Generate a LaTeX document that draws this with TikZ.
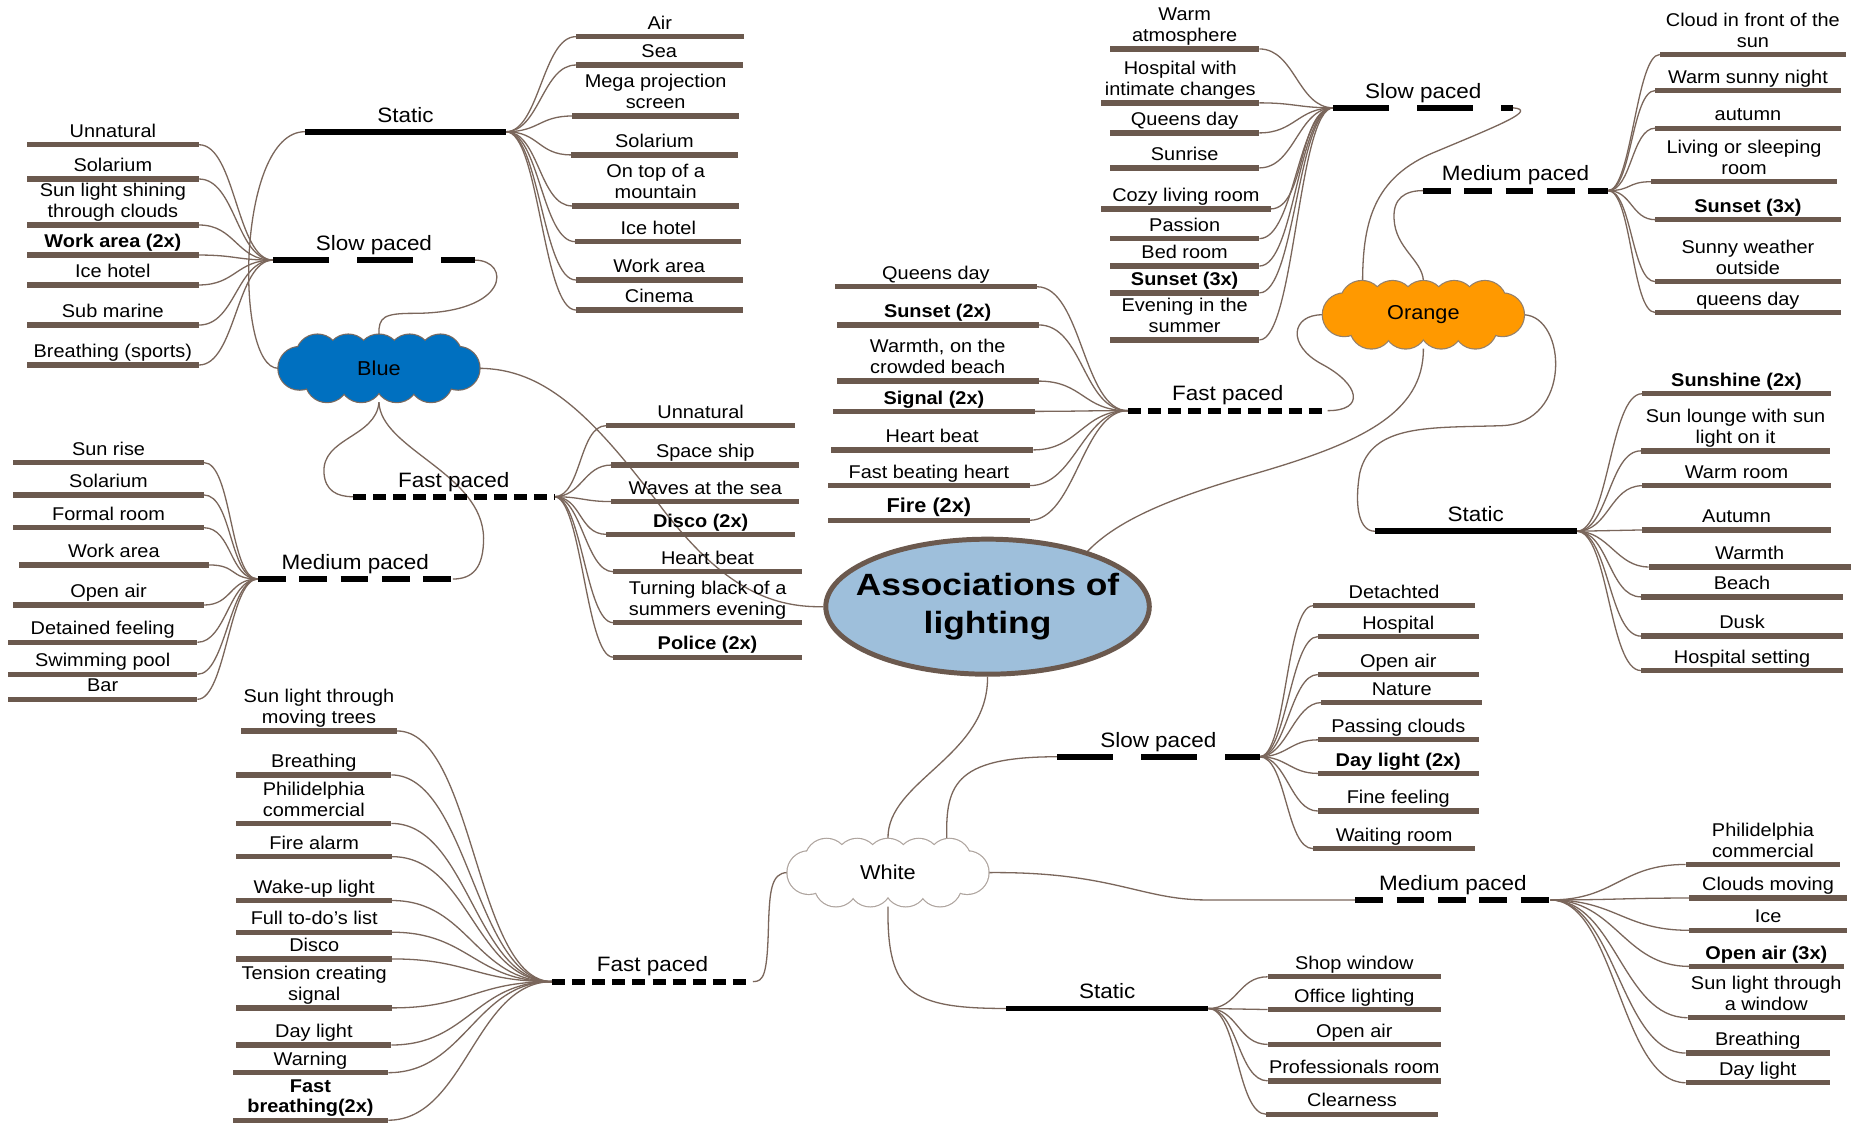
\documentclass[tikz,border=0pt]{standalone}
\usepackage{fontspec}
\setmainfont{Liberation Sans}[FakeStretch=1.08]
\newfontfamily\hubfont{Liberation Sans}[FakeStretch=1.15]
\usetikzlibrary{shapes.geometric}
\pgfdeclarelayer{paper}
\pgfdeclarelayer{links}
\pgfsetlayers{paper,links,main}

\definecolor{barbrown}{HTML}{6B594E}
\definecolor{linkbrown}{HTML}{7A665B}
\definecolor{hubfill}{HTML}{9EBFDB}
\definecolor{cloudblue}{HTML}{0070C0}
\definecolor{cloudorange}{HTML}{FF9900}

\tikzset{
  leaf/.style={fill=barbrown, inner sep=0pt, outer sep=0pt, minimum height=4.5pt},
  leaftext/.style={anchor=south, inner sep=0pt, align=center, text depth=0pt,
    font=\fontsize{15.6}{17.6}\selectfont},
  cattext/.style={anchor=south, inner sep=0pt, text depth=0pt,
    font=\fontsize{17.6}{20}\selectfont},
  catline/.style={line width=5pt, draw=black},
  solidbar/.style={catline},
  slowdash/.style={catline, dash pattern=on 47pt off 24pt},
  meddash/.style={catline, dash pattern=on 23.5pt off 11.5pt},
  fastdash/.style={catline, dash pattern=on 11pt off 6pt},
  link/.style={draw=linkbrown, line width=1.1pt},
  cloudlabel/.style={ellipse, minimum width=170pt, minimum height=57pt, inner sep=0pt,
    font=\fontsize{17}{20}\selectfont},
}

% a leaf: brown bar with its caption above
\newcommand\leafbar[5]{%
  \node[leaf, minimum width={(#3-#2)*1pt}] (#1) at ({(#2+#3)/2},#4) {};
  \node[leaftext] (#1t) at ({(#2+#3)/2},{#4-6}) {#5};
}
% a branch: black (dashed) bar with its caption above
\newcommand\branchbar[6]{%
  \coordinate (#1l) at (#3,#5);
  \coordinate (#1r) at (#4,#5);
  \draw[#2] (#1l) -- (#1r);
  \node[cattext] (#1t) at ({(#3+#4)/2},{#5-8}) {#6};
}
% a puffy cloud outline made of overlapping circles: centre x, centre y, fill, rim
\newcommand\puffcloud[4]{%
  \begin{scope}[shift={(#1,#2)}]
    \foreach \px/\py in {-52/-10.5,-26/-10.5,0/-10.5,26/-10.5,52/-10.5,
                         -44/10.5,-15/10.5,15/10.5,44/10.5,-67/0,67/0}
      \draw[#4, line width=2pt] (\px,\py) circle[radius=18pt];
    \foreach \px/\py in {-52/-10.5,-26/-10.5,0/-10.5,26/-10.5,52/-10.5,
                         -44/10.5,-15/10.5,15/10.5,44/10.5,-67/0,67/0}
      \fill[#3] (\px,\py) circle[radius=18pt];
  \end{scope}
}

\begin{document}
\begin{tikzpicture}[x=1pt,y=-1pt]
\begin{pgfonlayer}{paper}
  \fill[white] (0,0) rectangle (1568,950);
\end{pgfonlayer}
\useasboundingbox (0,0) rectangle (1568,950);

% central topic
\node[ellipse, draw=barbrown, line width=4.2pt, fill=hubfill, minimum width=273.6pt,
  minimum height=114.2pt, inner sep=0pt] (hub) at (835.2,513.1) {};
\node[align=center, inner sep=0pt,
  font={\hubfont\bfseries\fontsize{26}{32.5}\selectfont}] (hubt) at (hub.center)
  {Associations of\\lighting};

% colour clouds
\puffcloud{320.5}{311.5}{cloudblue}{barbrown!90}
\node[cloudlabel] (blue) at (320.5,311.5) {Blue};
\puffcloud{1203.8}{266.2}{cloudorange}{gray!85!orange}
\node[cloudlabel] (orange) at (1203.8,266.2) {Orange};
\puffcloud{751}{738}{white}{barbrown!55}
\node[cloudlabel] (white) at (751,738) {White};

% ---------- Blue ----------
\branchbar{bsc}{solidbar}{257.8}{428}{111.4}{Static}
\leafbar{bs1}{487}{629}{31}{Air}
\leafbar{bs2}{487}{628}{55}{Sea}
\leafbar{bs3}{484}{625}{98.1}{Mega projection\\screen}
\leafbar{bs4}{483}{624}{131}{Solarium}
\leafbar{bs5}{484}{625}{174.2}{On top of a\\mountain}
\leafbar{bs6}{486.5}{627}{204.4}{Ice hotel}
\leafbar{bs7}{487}{628}{236.8}{Work area}
\leafbar{bs8}{487}{628}{262.2}{Cinema}

\branchbar{bwc}{slowdash}{231}{401.5}{220}{Slow paced}
\leafbar{bw1}{22.6}{168.3}{122.4}{Unnatural}
\leafbar{bw2}{22.6}{168.3}{151.4}{Solarium}
\leafbar{bw3}{22.6}{168.3}{190.3}{Sun light shining\\through clouds}
\leafbar{bw4}{22.6}{168.3}{215.7}{\textbf{Work area (2x)}}
\leafbar{bw5}{22.6}{168.3}{241}{Ice hotel}
\leafbar{bw6}{22.6}{168.3}{274.9}{Sub marine}
\leafbar{bw7}{22.6}{168.3}{308.7}{Breathing (sports)}

\branchbar{bfc}{fastdash}{298.6}{468.8}{420.1}{Fast paced}
\leafbar{bf1}{512.6}{672.5}{360}{Unnatural}
\leafbar{bf2}{517}{676}{393.3}{Space ship}
\leafbar{bf3}{517}{676}{424.2}{Waves at the sea}
\leafbar{bf4}{512.6}{672.5}{451.9}{\textbf{Disco (2x)}}
\leafbar{bf5}{518.5}{678.3}{483.5}{Heart beat}
\leafbar{bf6}{518.5}{678.3}{526.6}{Turning black of a\\summers evening}
\leafbar{bf7}{518.5}{678.3}{555.8}{\textbf{Police (2x)}}

\branchbar{bmc}{meddash}{218}{383}{489.7}{Medium paced}
\leafbar{bm1}{11.2}{172.4}{391.2}{Sun rise}
\leafbar{bm2}{11.2}{172.4}{418.6}{Solarium}
\leafbar{bm3}{11.2}{172.4}{446.3}{Formal room}
\leafbar{bm4}{15.7}{176.9}{477.8}{Work area}
\leafbar{bm5}{11.2}{172.4}{511.7}{Open air}
\leafbar{bm6}{6.7}{167}{543.2}{Detained feeling}
\leafbar{bm7}{6.7}{167}{570.3}{Swimming pool}
\leafbar{bm8}{6.7}{167}{591.4}{Bar}

% ---------- Orange ----------
\branchbar{osc}{slowdash}{1127.7}{1279.6}{91.2}{Slow paced}
\leafbar{os1}{938.7}{1065.1}{41.4}{Warm\\atmosphere}
\leafbar{os2}{931.3}{1065.1}{87}{Hospital with\\intimate changes}
\leafbar{os3}{938.7}{1065.1}{112.4}{Queens day}
\leafbar{os4}{938.7}{1065.1}{142}{Sunrise}
\leafbar{os5}{931.3}{1074.6}{176.7}{Cozy living room}
\leafbar{os6}{938.7}{1065.1}{201.8}{Passion}
\leafbar{os7}{938.7}{1065.1}{225}{Bed room}
\leafbar{os8}{938.7}{1065.1}{247.7}{\textbf{Sunset (3x)}}
\leafbar{os9}{938.7}{1065.1}{287.5}{Evening in the\\summer}

\branchbar{ofc}{fastdash}{953.8}{1122.9}{347.3}{Fast paced}
\leafbar{of1}{706.1}{877}{242.5}{Queens day}
\leafbar{of2}{707.8}{878.3}{274.8}{\textbf{Sunset (2x)}}
\leafbar{of3}{707.8}{878.3}{322.3}{Warmth, on the\\crowded beach}
\leafbar{of4}{704.4}{875.2}{347.9}{\textbf{Signal (2x)}}
\leafbar{of5}{702.7}{874}{380.5}{Heart beat}
\leafbar{of6}{700.2}{871}{410.7}{Fast beating heart}
\leafbar{of7}{700.2}{871}{440}{\textbf{\fontsize{17}{19}\selectfont Fire (2x)}}

\branchbar{omc}{meddash}{1203.4}{1360}{161.2}{Medium paced}
\leafbar{om1}{1403.7}{1561.2}{46.1}{Cloud in front of the\\sun}
\leafbar{om2}{1399.9}{1556.7}{76.6}{Warm sunny night}
\leafbar{om3}{1399.9}{1556.7}{108.4}{autumn}
\leafbar{om4}{1396.2}{1553.8}{153.7}{Living or sleeping\\room}
\leafbar{om5}{1399.9}{1556.7}{185.8}{\textbf{Sunset (3x)}}
\leafbar{om6}{1399.9}{1556.7}{238.2}{Sunny weather\\outside}
\leafbar{om7}{1399.9}{1556.7}{264.3}{queens day}

\branchbar{otc}{solidbar}{1162.8}{1333.5}{449.3}{Static}
\leafbar{ot1}{1388.7}{1548.6}{333}{\textbf{Sunshine (2x)}}
\leafbar{ot2}{1387.8}{1547.8}{381.3}{Sun lounge with sun\\light on it}
\leafbar{ot3}{1388.7}{1548.6}{410.8}{Warm room}
\leafbar{ot4}{1388.7}{1548.6}{448.2}{Autumn}
\leafbar{ot5}{1394.3}{1565.2}{479.5}{Warmth}
\leafbar{ot6}{1387.8}{1558.8}{504.8}{Beach}
\leafbar{ot7}{1387.8}{1558.8}{538}{Dusk}
\leafbar{ot8}{1387.8}{1558.8}{567.1}{Hospital setting}

% ---------- White ----------
\branchbar{wsc}{slowdash}{894.2}{1065.2}{640}{Slow paced}
\leafbar{ws1}{1110.4}{1247.7}{512.3}{Detachted}
\leafbar{ws2}{1114.5}{1250.6}{538.4}{Hospital}
\leafbar{ws3}{1114.5}{1250.6}{570.5}{Open air}
\leafbar{ws4}{1117.4}{1253.5}{594.2}{Nature}
\leafbar{ws5}{1114.5}{1250.6}{625.7}{Passing clouds}
\leafbar{ws6}{1114.5}{1250.6}{654.1}{\textbf{Day light (2x)}}
\leafbar{ws7}{1114.5}{1250.6}{685.9}{Fine feeling}
\leafbar{ws8}{1110.4}{1247.7}{717.7}{Waiting room}

\branchbar{wmc}{meddash}{1146.2}{1311.3}{761.1}{Medium paced}
\leafbar{wm1}{1425.5}{1556.4}{731.1}{Philidelphia\\commercial}
\leafbar{wm2}{1428.4}{1562.2}{759.5}{Clouds moving}
\leafbar{wm3}{1428.4}{1562.2}{786.8}{Ice}
\leafbar{wm4}{1428.4}{1559.3}{817.3}{\textbf{Open air (3x)}}
\leafbar{wm5}{1427.2}{1560.4}{860.7}{Sun light through\\a window}
\leafbar{wm6}{1425.5}{1547.7}{890.6}{Breathing}
\leafbar{wm7}{1425.5}{1547.7}{915.7}{Day light}

\branchbar{wtc}{solidbar}{850.9}{1021.8}{852.9}{Static}
\leafbar{wt1}{1072.1}{1218.6}{826.1}{Shop window}
\leafbar{wt2}{1072.1}{1218.6}{853.8}{Office lighting}
\leafbar{wt3}{1072.1}{1218.6}{883.3}{Open air}
\leafbar{wt4}{1072.1}{1218.6}{914.1}{Professionals room}
\leafbar{wt5}{1071}{1215.8}{942.4}{Clearness}

\branchbar{wfc}{fastdash}{466.9}{636.8}{830.2}{Fast paced}
\leafbar{wf1}{203.8}{335.8}{618.2}{Sun light through\\moving trees}
\leafbar{wf2}{199.9}{331}{655.4}{Breathing}
\leafbar{wf3}{199.9}{331}{696.4}{Philidelphia\\commercial}
\leafbar{wf4}{199.9}{331.6}{724.5}{Fire alarm}
\leafbar{wf5}{199.9}{331.6}{761.6}{Wake-up light}
\leafbar{wf6}{199.9}{331.6}{788.4}{Full to-do's list}
\leafbar{wf7}{199.9}{331.6}{811}{Disco}
\leafbar{wf8}{199.9}{331.6}{852.4}{Tension creating\\signal}
\leafbar{wf9}{199.9}{331}{883.8}{Day light}
\leafbar{wf10}{196.7}{328.4}{907.2}{Warning}
\leafbar{wf11}{196.7}{328.4}{947.4}{\textbf{Fast}\\\textbf{breathing(2x)}}

\begin{pgfonlayer}{links}
  % branch to leaf fans
  \foreach \i in {1,...,8} \draw[link] (bscr) to[out=0,in=180,distance=28pt] (bs\i.west);
  \foreach \i in {1,...,7} \draw[link] (bw\i.east) to[out=0,in=180,distance=31pt] (bwcl);
  \foreach \i in {1,...,7} \draw[link] (bfcr) to[out=0,in=180,distance=23pt] (bf\i.west);
  \foreach \i in {1,...,8} \draw[link] (bm\i.east) to[out=0,in=180,distance=24pt] (bmcl);
  \foreach \i in {1,...,9} \draw[link] (os\i.east) to[out=0,in=180,distance=30pt] (oscl);
  \foreach \i in {1,...,7} \draw[link] (of\i.east) to[out=0,in=180,distance=38pt] (ofcl);
  \foreach \i in {1,...,7} \draw[link] (omcr) to[out=0,in=180,distance=20pt] (om\i.west);
  \foreach \i in {1,...,8} \draw[link] (otcr) to[out=0,in=180,distance=27pt] (ot\i.west);
  \foreach \i in {1,...,8} \draw[link] (wscr) to[out=0,in=180,distance=23pt] (ws\i.west);
  \foreach \i in {1,...,7} \draw[link] (wmcr) to[out=0,in=180,distance=55pt] (wm\i.west);
  \foreach \i in {1,...,5} \draw[link] (wtcr) to[out=0,in=180,distance=25pt] (wt\i.west);
  \foreach \i in {1,...,11} \draw[link] (wf\i.east) to[out=0,in=180,distance=65pt] (wfcl);

  % Blue cloud to its branches and to the centre
  \draw[link] (blue.west) .. controls (198,311.5) and (200,111.4) .. (bscl);
  \draw[link] (blue.north) .. controls (320,268) and (325,265) .. (350,265)
              .. controls (432,265) and (432,220) .. (bwcr);
  \draw[link] (blue.south) .. controls (318,370) and (272,370) .. (274,400)
              .. controls (275,415) and (285,420.1) .. (bfcl);
  \draw[link] (blue.south) .. controls (322,380) and (408,400) .. (409,455)
              .. controls (409,480) and (400,489.7) .. (bmcr);
  \draw[link] (blue.east) .. controls (460,312) and (500,350) .. (560,430)
              .. controls (610,495) and (650,514) .. (hub.west);

  % Orange cloud
  \draw[link] (orange.156) .. controls (1152,190) and (1160,150) .. (1215,128)
              .. controls (1270,105) and (1300,93) .. (oscr);
  \draw[link] (orange.north) .. controls (1203,220) and (1180,210) .. (1179,185)
              .. controls (1178,168) and (1188,161.2) .. (omcl);
  \draw[link] (orange.west) .. controls (1092,266) and (1088,292) .. (1118,308)
              .. controls (1150,325) and (1155,347.3) .. (ofcr);
  \draw[link] (orange.east) .. controls (1325,268) and (1330,358) .. (1270,360)
              .. controls (1210,362) and (1160,358) .. (1150,400)
              .. controls (1145,430) and (1150,449.3) .. (otcl);
  \draw[link] (orange.south) .. controls (1204,350) and (1150,375) .. (1060,401)
              .. controls (990,421) and (945,440) .. (hub.29);

  % centre to White, White to its branches
  \draw[link] (hub.south) .. controls (836,640) and (750,660) .. (white.north);
  \draw[link] (white.25) .. controls (799,665) and (805,640) .. (wscl);
  \draw[link] (white.east) .. controls (940,737) and (965,761.1) .. (1020,761.1) -- (wmcl);
  \draw[link] (white.south) .. controls (750,840) and (770,852.9) .. (wtcl);
  \draw[link] (white.west) .. controls (652,738) and (651,755) .. (650,780)
              .. controls (649,825) and (646,830.2) .. (wfcr);
\end{pgfonlayer}
\end{tikzpicture}
\end{document}
